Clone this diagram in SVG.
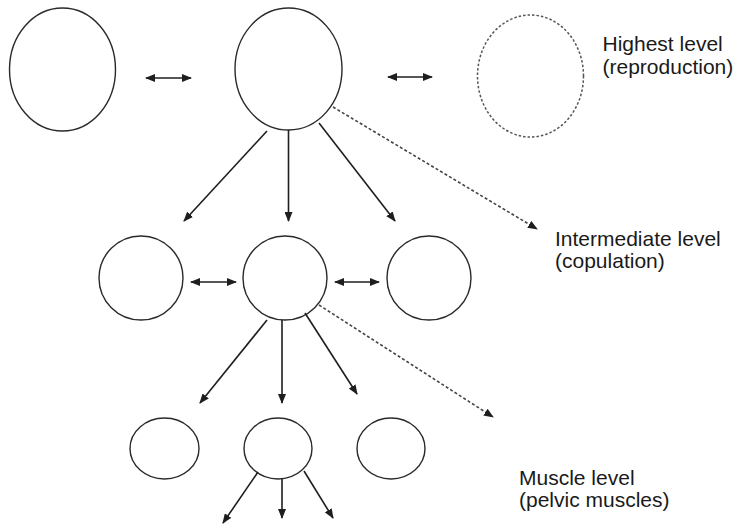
<svg xmlns="http://www.w3.org/2000/svg" width="735" height="526" viewBox="0 0 735 526">
  <style>
    .node { fill: #ffffff; stroke: #2a2a2a; stroke-width: 1.4; }
    .node.dashed { stroke: #555; stroke-width: 1.5; stroke-dasharray: 2.5 2; }
    .edge { fill: none; stroke: #1e1e1e; stroke-width: 1.6; }
    .edge.dashed { stroke: #444; stroke-width: 1.6; stroke-dasharray: 3 2.2; }
    .label { font-family: "Liberation Sans", Arial, sans-serif; font-size: 21px; fill: #1a1a1a; }
  </style>
  <defs>
    <marker id="head" viewBox="0 0 10 8" refX="9" refY="4" markerWidth="10" markerHeight="8" markerUnits="userSpaceOnUse" orient="auto-start-reverse">
      <path d="M0,0 L10,4 L0,8 Z" fill="#1e1e1e"/>
    </marker>
  </defs>
  <rect width="735" height="526" fill="#ffffff"/>

  <!-- top row: highest level -->
  <g id="top-left"><ellipse class="node" cx="62.5" cy="69.5" rx="53" ry="61.5"/></g>
  <g id="top-center"><ellipse class="node" cx="288.5" cy="69" rx="53.5" ry="61"/></g>
  <g id="top-right"><ellipse class="node dashed" cx="530.5" cy="76" rx="53" ry="61"/></g>

  <!-- middle row: intermediate level -->
  <g id="mid-left"><ellipse class="node" cx="141" cy="278" rx="42" ry="42"/></g>
  <g id="mid-center"><ellipse class="node" cx="285" cy="278" rx="42" ry="42"/></g>
  <g id="mid-right"><ellipse class="node" cx="429" cy="278" rx="42" ry="42"/></g>

  <!-- bottom row: muscle level -->
  <g id="low-left"><ellipse class="node" cx="164.5" cy="448.5" rx="34.5" ry="30.5"/></g>
  <g id="low-center"><ellipse class="node" cx="278" cy="448.5" rx="34" ry="30.5"/></g>
  <g id="low-right"><ellipse class="node" cx="391" cy="448.5" rx="34" ry="30.5"/></g>

  <g id="connectors">
    <!-- lateral links -->
    <line class="edge" x1="146" y1="78" x2="191" y2="78" marker-start="url(#head)" marker-end="url(#head)"/>
    <line class="edge" x1="388" y1="77" x2="432" y2="77" marker-start="url(#head)" marker-end="url(#head)"/>
    <line class="edge" x1="191" y1="282" x2="236" y2="282" marker-start="url(#head)" marker-end="url(#head)"/>
    <line class="edge" x1="335" y1="282" x2="379" y2="282" marker-start="url(#head)" marker-end="url(#head)"/>

    <!-- top to middle -->
    <line class="edge" x1="267" y1="131" x2="184" y2="221" marker-end="url(#head)"/>
    <line class="edge" x1="288.5" y1="130" x2="288.5" y2="221" marker-end="url(#head)"/>
    <line class="edge" x1="319" y1="123" x2="395" y2="221" marker-end="url(#head)"/>
    <line class="edge dashed" x1="333" y1="107" x2="537" y2="229" marker-end="url(#head)"/>

    <!-- middle to bottom -->
    <line class="edge" x1="267" y1="320" x2="200" y2="403" marker-end="url(#head)"/>
    <line class="edge" x1="282" y1="320" x2="282" y2="403" marker-end="url(#head)"/>
    <line class="edge" x1="305" y1="313" x2="357" y2="394" marker-end="url(#head)"/>
    <line class="edge dashed" x1="319" y1="305" x2="493" y2="417" marker-end="url(#head)"/>

    <!-- bottom to muscles -->
    <line class="edge" x1="258" y1="472" x2="223" y2="523" marker-end="url(#head)"/>
    <line class="edge" x1="282" y1="479" x2="282" y2="518" marker-end="url(#head)"/>
    <line class="edge" x1="304" y1="471" x2="333" y2="518" marker-end="url(#head)"/>
  </g>

  <!-- level labels -->
  <text class="label" x="602.5" y="51">Highest level</text>
  <text class="label" x="602.5" y="73.5">(reproduction)</text>
  <text class="label" x="555" y="245.5">Intermediate level</text>
  <text class="label" x="555" y="268">(copulation)</text>
  <text class="label" x="519" y="484.5">Muscle level</text>
  <text class="label" x="519" y="507">(pelvic muscles)</text>
</svg>
